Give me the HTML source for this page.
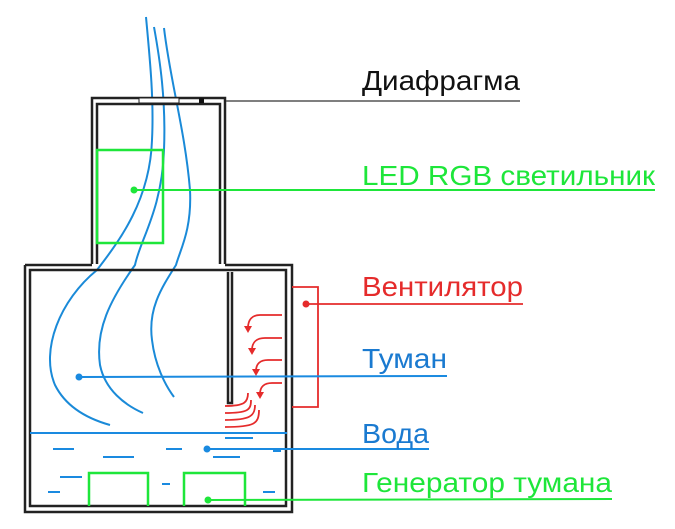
<!DOCTYPE html>
<html><head><meta charset="utf-8"><style>html,body{margin:0;padding:0;background:#fff}svg{display:block}</style></head>
<body>
<svg width="675" height="529" viewBox="0 0 675 529" xmlns="http://www.w3.org/2000/svg" font-family="Liberation Sans, sans-serif">
<!-- fog curves -->
<g fill="none" stroke="#1a8ad8" stroke-width="2">
<path d="M146,17 C150,60 154,100 152,140 C150,200 120,240 97,270 C60,300 40,350 55,385 C65,405 85,418 110,425"/>
<path d="M154,27 C160,60 166,100 164,150 C162,210 140,240 135,265 C110,300 95,330 100,365 C105,390 125,405 143,413"/>
<path d="M164,28 C170,80 185,130 190,190 C192,230 180,250 176,265 C160,290 148,310 152,340 C155,365 165,385 174,397"/>
</g>
<!-- upper box -->
<g fill="none" stroke="#222" stroke-width="2.5">
<path d="M92,264 V98 H225 V264"/>
<path d="M97,264 V104 H220 V264"/>
<!-- lower box -->
<path d="M25,265 H92 M225,265 H292 V512 H25 V265"/>
<path d="M30,270 H286 V506 H30 Z"/>
<path d="M228,272 V403 H232 V272"/>
</g>
<rect x="139" y="98" width="40" height="5" fill="#fff" stroke="#222" stroke-width="1"/>
<rect x="199" y="98" width="5" height="5" fill="#111"/>
<line x1="226" y1="101" x2="520" y2="101" stroke="#555" stroke-width="1.5"/>
<text x="362" y="90" font-size="28" fill="#111" textLength="158" lengthAdjust="spacingAndGlyphs">Диафрагма</text>
<!-- LED -->
<rect x="97" y="150" width="66" height="93" fill="none" stroke="#1ee63a" stroke-width="2.5"/>
<circle cx="134" cy="190" r="3.5" fill="#1ee63a"/>
<line x1="134" y1="190" x2="655" y2="190" stroke="#1ee63a" stroke-width="2"/>
<text x="362" y="185" font-size="28" fill="#1ee63a" textLength="293" lengthAdjust="spacingAndGlyphs">LED RGB светильник</text>
<!-- fan -->
<g fill="none" stroke="#e52b2b" stroke-width="1.8">
<path d="M292,287 H318 V407 H292"/>
<line x1="306" y1="304" x2="523" y2="304"/>
<path d="M282,315 H260 C252,315 248,320 248,328"/>
<path d="M282,338 H265 C257,338 252,342 252,350"/>
<path d="M282,360 H268 C260,360 256,364 256,371"/>
<path d="M282,383 H272 C264,383 260,387 260,394"/>
<path d="M248,393 C248,402 245,406 225,406"/>
<path d="M251,400 C251,410 248,413 225,413"/>
<path d="M255,405 C255,416 250,420 225,420"/>
<path d="M259,410 C259,424 254,427 225,427"/>
</g>
<g fill="#e52b2b">
<path d="M244,326 L252,326 L248,333 Z"/><path d="M248,348 L256,348 L252,355 Z"/>
<path d="M252,369 L260,369 L256,376 Z"/><path d="M256,392 L264,392 L260,399 Z"/>
</g>
<circle cx="306" cy="304" r="3.5" fill="#e52b2b"/>
<text x="362" y="296" font-size="28" fill="#e52b2b" textLength="161" lengthAdjust="spacingAndGlyphs">Вентилятор</text>
<!-- fog label -->
<circle cx="79" cy="377" r="3.5" fill="#1a8ae0"/>
<line x1="79" y1="377" x2="447" y2="376" stroke="#1a8ae0" stroke-width="2"/>
<text x="362" y="368" font-size="28" fill="#1a7ad0" textLength="85" lengthAdjust="spacingAndGlyphs">Туман</text>
<!-- water -->
<line x1="30" y1="433" x2="287" y2="433" stroke="#1a8ae0" stroke-width="2"/>
<g stroke="#1a8ae0" stroke-width="2">
<line x1="53" y1="449" x2="74" y2="449"/><line x1="103" y1="457" x2="134" y2="457"/>
<line x1="166" y1="449" x2="182" y2="449"/><line x1="213" y1="457" x2="240" y2="457"/>
<line x1="225" y1="438" x2="253" y2="438"/><line x1="273" y1="451" x2="281" y2="451"/>
<line x1="60" y1="477" x2="82" y2="477"/><line x1="48" y1="492" x2="60" y2="492"/>
<line x1="162" y1="484" x2="170" y2="484"/><line x1="263" y1="492" x2="275" y2="492"/>
</g>
<circle cx="207" cy="449" r="3.5" fill="#1a8ae0"/>
<line x1="207" y1="449" x2="429" y2="449" stroke="#1a8ae0" stroke-width="2"/>
<text x="362" y="443" font-size="28" fill="#1a7ad0" textLength="67" lengthAdjust="spacingAndGlyphs">Вода</text>
<!-- generator -->
<g fill="none" stroke="#1ee63a" stroke-width="2.5">
<path d="M89,506 V473 H148 V506"/>
<path d="M184,506 V473 H245 V506"/>
</g>
<circle cx="208" cy="500" r="3.5" fill="#1ee63a"/>
<line x1="208" y1="500" x2="612" y2="499" stroke="#1ee63a" stroke-width="2"/>
<text x="362" y="492" font-size="28" fill="#1ee63a" textLength="250" lengthAdjust="spacingAndGlyphs">Генератор тумана</text>
</svg>
</body></html>
